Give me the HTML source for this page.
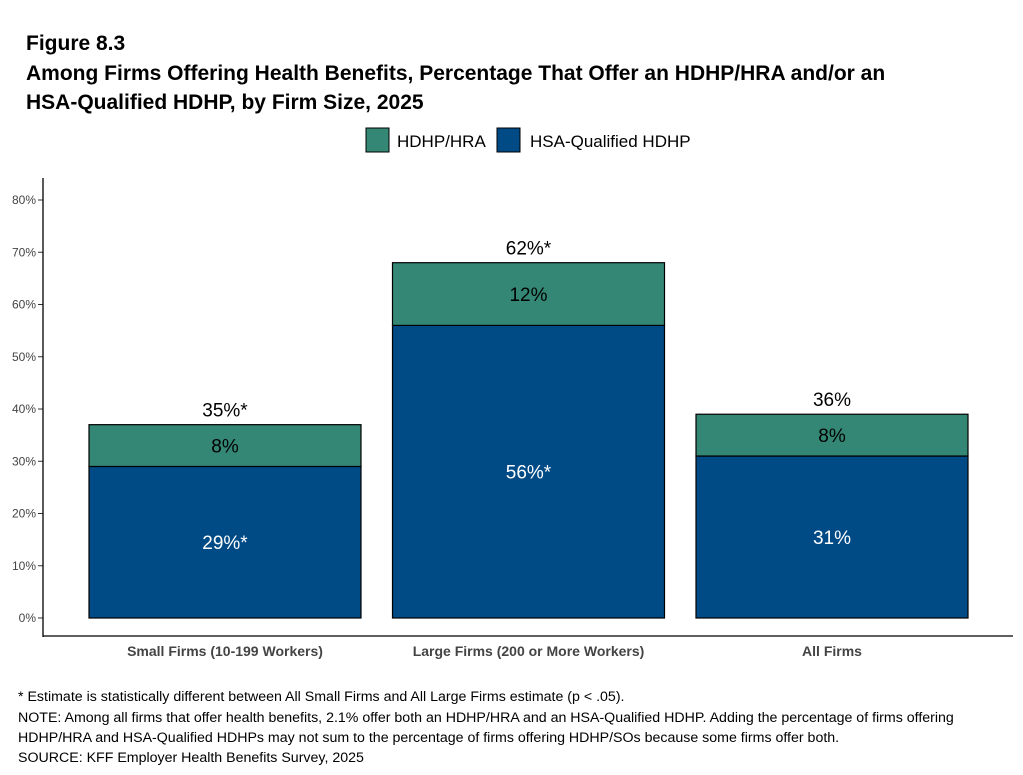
<!DOCTYPE html>
<html><head><meta charset="utf-8"><style>
body{margin:0;background:#fff;font-family:"Liberation Sans",Arial,sans-serif;}
svg text{font-family:"Liberation Sans",Arial,sans-serif;}
</style></head><body>
<svg id="chart" width="1023" height="770" viewBox="0 0 1023 770">
<text x="26" y="50" font-size="21" font-weight="bold">Figure 8.3</text>
<text x="26" y="80" font-size="21" font-weight="bold">Among Firms Offering Health Benefits, Percentage That Offer an HDHP/HRA and/or an</text>
<text x="26" y="109" font-size="21" font-weight="bold">HSA-Qualified HDHP, by Firm Size, 2025</text>
<g>
<rect x="366" y="128" width="23" height="24" fill="#358775" stroke="#000"/>
<text x="397" y="147" font-size="17">HDHP/HRA</text>
<rect x="497" y="128" width="23" height="24" fill="#004a85" stroke="#000"/>
<text x="530" y="147" font-size="17">HSA-Qualified HDHP</text>
</g>
<g id="plot"></g>
<g font-size="14.2">
<text x="18" y="701">* Estimate is statistically different between All Small Firms and All Large Firms estimate (p &lt; .05).</text>
<text x="18" y="722">NOTE: Among all firms that offer health benefits, 2.1% offer both an HDHP/HRA and an HSA-Qualified HDHP. Adding the percentage of firms offering</text>
<text x="18" y="742">HDHP/HRA and HSA-Qualified HDHPs may not sum to the percentage of firms offering HDHP/SOs because some firms offer both.</text>
<text x="18" y="762">SOURCE: KFF Employer Health Benefits Survey, 2025</text>
</g>
</svg>
<script>
const categories=["Small Firms (10-199 Workers)","Large Firms (200 or More Workers)","All Firms"];
const hsaValues=[29,56,31];
const hraValues=[8,12,8];
const hsaLabels=["29%*","56%*","31%"];
const hraLabels=["8%","12%","8%"];
const totalLabels=["35%*","62%*","36%"];
const yTicks=[0,10,20,30,40,50,60,70,80];
const NS="http://www.w3.org/2000/svg";
const g=document.getElementById('plot');
const y=v=>618-v*5.225;
const xc=i=>225+i*303.5;
const bw=272;
function el(t,a,txt){const e=document.createElementNS(NS,t);for(const k in a)e.setAttribute(k,a[k]);if(txt!=null)e.textContent=txt;g.appendChild(e);return e;}
yTicks.forEach(t=>{
const tk=el('text',{x:36,y:y(t)+4,'font-size':12,fill:'#444','text-anchor':'end'},t+'%');


const ln=el('line',{x1:38,x2:43,y1:y(t),y2:y(t),stroke:'#333'});


});
const ya=el('line',{x1:43,x2:43,y1:178,y2:637,stroke:'#000','stroke-width':1.3});


const xa=el('line',{x1:43,x2:1013,y1:636,y2:636,stroke:'#000','stroke-width':1.3});


categories.forEach((c,i)=>{
const x0=xc(i)-bw/2;
const b1=el('rect',{x:x0,y:y(hsaValues[i]),width:bw,height:y(0)-y(hsaValues[i]),fill:'#004a85',stroke:'#000','stroke-width':1.2});


const top=hsaValues[i]+hraValues[i];
const b2=el('rect',{x:x0,y:y(top),width:bw,height:y(hsaValues[i])-y(top),fill:'#358775',stroke:'#000','stroke-width':1.2});


const l1=el('text',{x:xc(i),y:y(hsaValues[i]/2)+7,'font-size':19,fill:'#fff','text-anchor':'middle'},hsaLabels[i]);


const l2=el('text',{x:xc(i),y:y(hsaValues[i]+hraValues[i]/2)+7,'font-size':19,fill:'#000','text-anchor':'middle'},hraLabels[i]);


const l3=el('text',{x:xc(i),y:y(top)-8,'font-size':19,fill:'#000','text-anchor':'middle'},totalLabels[i]);


const cl=el('text',{x:xc(i),y:656,'font-size':14,'font-weight':'bold',fill:'#444','text-anchor':'middle'},c);


});
</script>
</body></html>
